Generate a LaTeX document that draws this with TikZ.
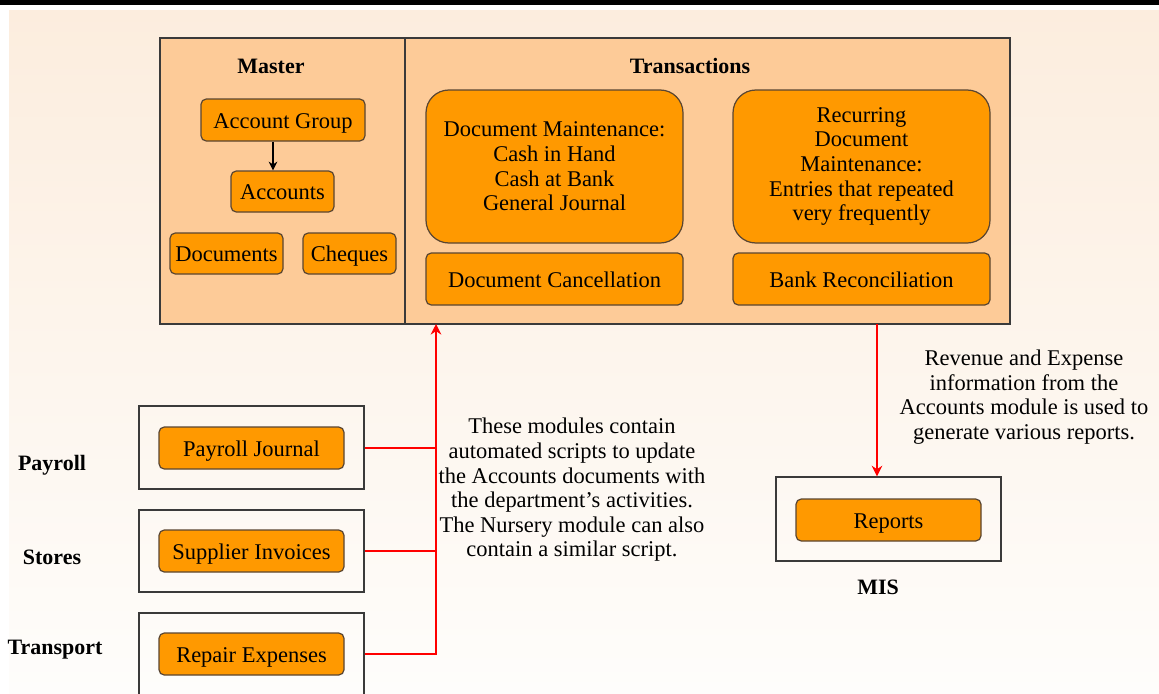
\documentclass[tikz,border=0pt]{standalone}
\usepackage{fontspec}
\setmainfont{Liberation Serif}
\usetikzlibrary{arrows.meta}
\definecolor{peach}{HTML}{FDCB98}
\definecolor{orangebox}{HTML}{FF9900}
\definecolor{boxedge}{HTML}{5A4632}
\definecolor{edgegray}{HTML}{3A3A3A}
\definecolor{bgtop}{HTML}{FCEDDE}
\definecolor{bgbot}{HTML}{FEFDFB}

\begin{document}
\begin{tikzpicture}[x=0.02cm, y=-0.02cm,
    tile/.style={draw=boxedge, fill=orangebox, line width=0.7pt, rounded corners=3pt, inner sep=0pt, align=center, font=\fontsize{12.8}{14}\selectfont},
    item/.style={tile, text height=10pt, text depth=0.4pt},
    bigitem/.style={tile, rounded corners=13pt},
    panel/.style={draw=edgegray, fill=peach, line width=0.8pt, inner sep=0pt},
    module/.style={draw=edgegray, line width=0.8pt, inner sep=0pt},
    head/.style={font=\fontsize{12.5}{14}\selectfont\bfseries},
    note/.style={align=center, font=\fontsize{12.8}{14}\selectfont},
    link/.style={draw=red, line width=1.6pt}]
    \def\px{0.02cm};
    \useasboundingbox (0,0) rectangle (1159,693);
    \clip (0,0) rectangle (1159,693);
    \fill (0,0) rectangle (1159,4.5);
    \shade[top color=bgtop, bottom color=bgbot] (9,10) rectangle (1159,693);
    % accounts module
    \node[panel, minimum width=850*\px, minimum height=286*\px] at (585,181) (main) {};
    \draw[edgegray, line width=0.8pt] (405,38) -- (405,324);
    \node[head] at (271,66) (master) {Master};
    \node[head] at (690,66) (trans) {Transactions};
    \node[item, minimum width=164*\px, minimum height=42*\px] at (283,120) (grp) {Account Group};
    \node[item, minimum width=103*\px, minimum height=41*\px] at (282.5,191.5) (acc) {Accounts};
    \node[item, minimum width=113*\px, minimum height=41*\px] at (226.5,253.5) (docs) {Documents};
    \node[item, minimum width=93*\px, minimum height=41*\px] at (349.5,253.5) (chq) {Cheques};
    \node[bigitem, minimum width=257*\px, minimum height=153*\px] at (554.5,166.5) (maint) {Document Maintenance:\\Cash in Hand\\Cash at Bank\\General Journal};
    \node[bigitem, minimum width=257*\px, minimum height=153*\px] at (861.5,166.5) (recur) {Recurring\\Document\\Maintenance:\\Entries that repeated\\very frequently};
    \node[item, minimum width=257*\px, minimum height=52*\px] at (554.5,279) (cancel) {Document Cancellation};
    \node[item, minimum width=257*\px, minimum height=52*\px] at (861.5,279) (recon) {Bank Reconciliation};
    \draw[-{Stealth[length=5pt,width=5pt]}, line width=0.6pt] ([xshift=-10*\px]grp.south) -- ([xshift=-10*\px]grp.south |- acc.north);
    % other modules
    \node[module, minimum width=225*\px, minimum height=83*\px] at (251.5,447.5) (payroll) {};
    \node[item, minimum width=185*\px, minimum height=42*\px] at (251.5,448) (pjournal) {Payroll Journal};
    \node[module, minimum width=225*\px, minimum height=82*\px] at (251.5,551) (stores) {};
    \node[item, minimum width=185*\px, minimum height=42*\px] at (251.5,551) (supplier) {Supplier Invoices};
    \node[module, minimum width=225*\px, minimum height=87*\px] at (251.5,656.5) (transport) {};
    \node[item, minimum width=185*\px, minimum height=42*\px] at (251.5,654) (repair) {Repair Expenses};
    \node[head] at (52,465) (lpay) {Payroll};
    \node[head] at (52,557) (lsto) {Stores};
    \node[head] at (55,650) (ltra) {Transport};
    \node[module, minimum width=225*\px, minimum height=84*\px] at (888.5,519) (mis) {};
    \node[item, minimum width=185*\px, minimum height=42*\px] at (888.5,520) (reports) {Reports};
    \node[head] at (878,587) (lmis) {MIS};
    % red links
    \coordinate (upin) at (436,324);
    \coordinate (downout) at (877,324);
    \draw[link, -{Stealth[length=6pt,width=6pt]}] (repair.east -| transport.east) -| (upin);
    \draw[link] (pjournal.east -| payroll.east) -- (pjournal.east -| upin);
    \draw[link] (supplier.east -| stores.east) -- (supplier.east -| upin);
    \draw[link, -{Stealth[length=6pt,width=6pt]}] (downout) -- (downout |- mis.north);
    \node[note] at (572,490) (note1) {These modules contain\\automated scripts to update\\the Accounts documents with\\the department’s activities.\\The Nursery module can also\\contain a similar script.};
    \node[note] at (1024,397) (note2) {Revenue and Expense\\information from the\\Accounts module is used to\\generate various reports.};
\end{tikzpicture}
\end{document}
